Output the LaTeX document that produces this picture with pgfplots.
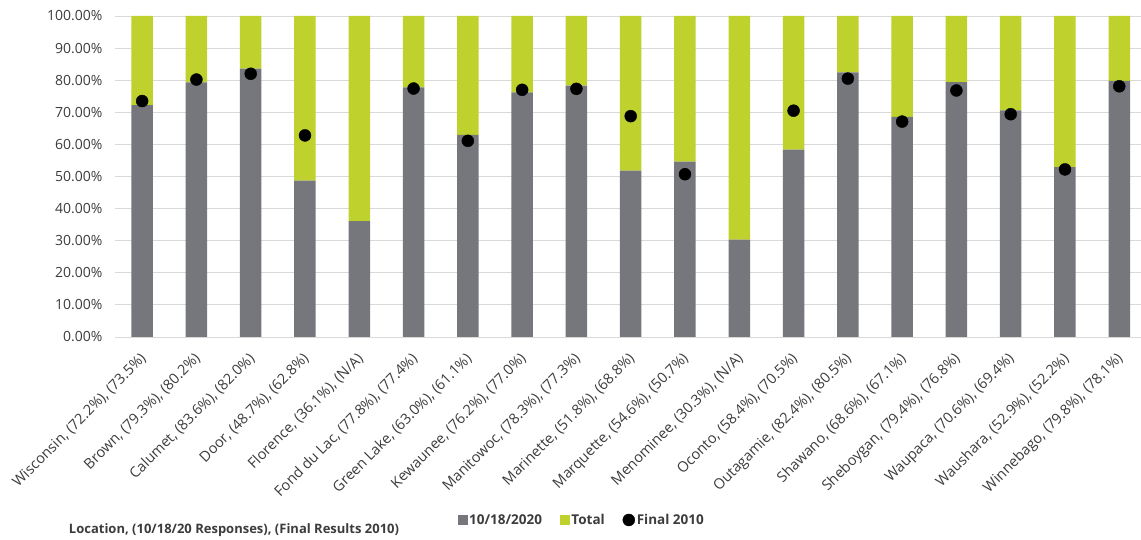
\documentclass[border=0pt]{standalone}
\usepackage{pgfplots}
\pgfplotsset{compat=1.18}
\usepackage{fontspec}
\setmainfont{Open Sans}
\definecolor{barGrey}{HTML}{75777C}
\definecolor{barLime}{HTML}{BFD12C}
\definecolor{gridGrey}{HTML}{D9D9D9}
\definecolor{txtGrey}{HTML}{3C3C3C}

\pgfplotsset{
  frame/.style={at={(115pt,203pt)}, anchor=south west, scale only axis,
    width=1026pt, height=321pt,
    xmin=-0.5, xmax=18.4, ymin=0, ymax=100},
}

\begin{document}
\begin{tikzpicture}[x=1pt,y=1pt]
\useasboundingbox (0pt,0pt) rectangle (1141pt,540pt);

% stacked bars: responses + remainder to 100%
\begin{axis}[frame,
  ybar stacked, bar width=21.5pt,
  axis line style={draw=none},
  major tick length=0pt,
  ytick={0,10,...,100},
  ymajorgrids, grid style={gridGrey, line width=0.9pt},
  /pgf/number format/assume math mode=true,
  yticklabel={\pgfmathprintnumber[fixed,fixed zerofill,precision=2]{\tick}\%},
  yticklabel style={font=\fontsize{14}{16}\selectfont, text=txtGrey, xshift=-9pt},
  xtick={0,...,18},
  xticklabels={
    {Wisconsin, (72.2\%), (73.5\%)},
    {Brown, (79.3\%), (80.2\%)},
    {Calumet, (83.6\%), (82.0\%)},
    {Door, (48.7\%), (62.8\%)},
    {Florence, (36.1\%), (N/A)},
    {Fond du Lac, (77.8\%), (77.4\%)},
    {Green Lake, (63.0\%), (61.1\%)},
    {Kewaunee, (76.2\%), (77.0\%)},
    {Manitowoc, (78.3\%), (77.3\%)},
    {Marinette, (51.8\%), (68.8\%)},
    {Marquette, (54.6\%), (50.7\%)},
    {Menominee, (30.3\%), (N/A)},
    {Oconto, (58.4\%), (70.5\%)},
    {Outagamie, (82.4\%), (80.5\%)},
    {Shawano, (68.6\%), (67.1\%)},
    {Sheboygan, (79.4\%), (76.8\%)},
    {Waupaca, (70.6\%), (69.4\%)},
    {Waushara, (52.9\%), (52.2\%)},
    {Winnebago, (79.8\%), (78.1\%)}},
  xticklabel style={font=\fontsize{14.5}{16}\selectfont, text=txtGrey,
    yshift=-17pt, xshift=4pt, rotate=45, anchor=east},
]
\addplot[fill=barGrey, draw=none] coordinates {
(0,72.2) (1,79.3) (2,83.6) (3,48.7) (4,36.1) (5,77.8) (6,63.0) (7,76.2)
(8,78.3) (9,51.8) (10,54.6) (11,30.3) (12,58.4) (13,82.4) (14,68.6)
(15,79.4) (16,70.6) (17,52.9) (18,79.8)};
\addplot[fill=barLime, draw=none] coordinates {
(0,27.8) (1,20.7) (2,16.4) (3,51.3) (4,63.9) (5,22.2) (6,37.0) (7,23.8)
(8,21.7) (9,48.2) (10,45.4) (11,69.7) (12,41.6) (13,17.6) (14,31.4)
(15,20.6) (16,29.4) (17,47.1) (18,20.2)};
\end{axis}

% final 2010 dots and the legend
\begin{axis}[frame, hide axis,
  legend columns=3,
  legend style={at={(0.455,-0.570)}, anchor=center, draw=none, fill=none,
    font=\bfseries\fontsize{13.5}{15}\selectfont, text=txtGrey,
    /tikz/every even column/.append style={column sep=16pt}},
]
\addlegendimage{legend image code/.code={\fill[barGrey] (0pt,-4.5pt) rectangle (9pt,4.5pt);}}
\addlegendentry{10/18/2020}
\addlegendimage{legend image code/.code={\fill[barLime] (0pt,-4.5pt) rectangle (9pt,4.5pt);}}
\addlegendentry{Total}
\addplot[only marks, mark=*, mark size=6pt, black] coordinates {
(0,73.5) (1,80.2) (2,82.0) (3,62.8) (5,77.4) (6,61.1) (7,77.0)
(8,77.3) (9,68.8) (10,50.7) (12,70.5) (13,80.5) (14,67.1)
(15,76.8) (16,69.4) (17,52.2) (18,78.1)};
\addlegendentry{Final 2010}
\end{axis}

\node[font=\bfseries\fontsize{13}{15}\selectfont, text=txtGrey] at (234pt,10pt)
  {Location, (10/18/20 Responses), (Final Results 2010)};
\end{tikzpicture}
\end{document}
